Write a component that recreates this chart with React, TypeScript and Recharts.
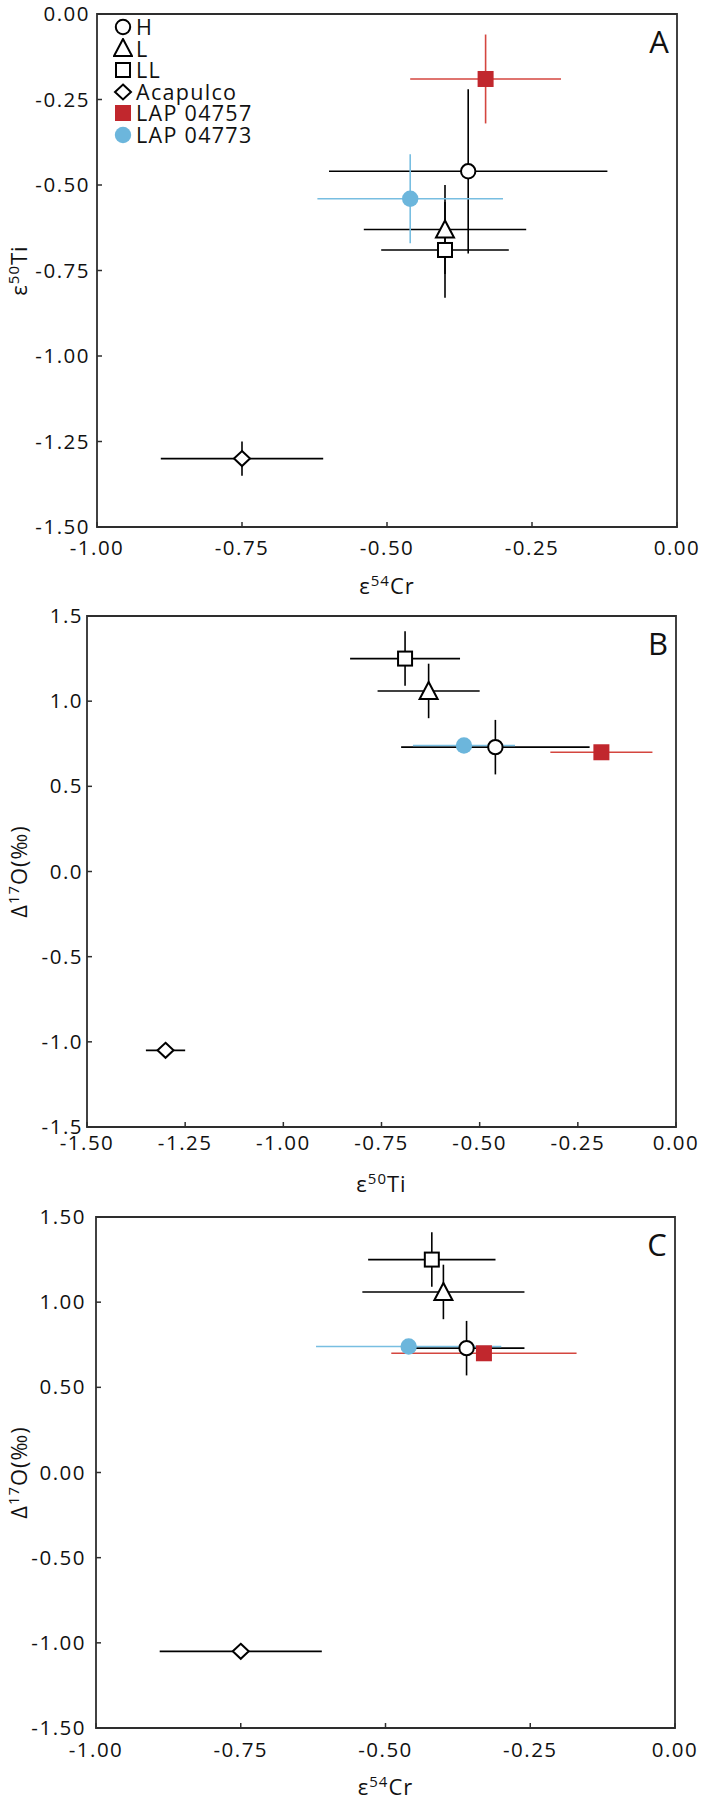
import React from "react";
import {
  ScatterChart,
  Scatter,
  XAxis,
  YAxis,
  ErrorBar,
  ReferenceArea,
  Legend,
} from "recharts";

const FONT = "'Open Sans', sans-serif";
const INK = "#111111";
const FRAME = "#2e2e2e";
const RED = "#c1272d";
const RED_LINE = "#d4463f";
const BLUE = "#6cb6dc";
const BLUE_LINE = "#78bee1";

const groups = ["H", "L", "LL", "Acapulco", "LAP 04757", "LAP 04773"];

// panel A: e54Cr vs e50Ti
const cr54 = [-0.36, -0.4, -0.4, -0.75, -0.33, -0.46];
const cr54Err = [0.24, 0.14, 0.11, 0.14, 0.13, 0.16];
const ti50 = [-0.46, -0.63, -0.69, -1.3, -0.19, -0.54];
const ti50Err = [0.24, 0.13, 0.14, 0.05, 0.13, 0.13];

// oxygen, used in B and C
const o17 = [0.73, 1.06, 1.25, -1.05, 0.7, 0.74];
const o17Err = [0.16, 0.16, 0.16, 0, 0, 0];

// panel C plots a slightly different Cr set
const cr54C = [-0.36, -0.4, -0.42, -0.75, -0.33, -0.46];
const cr54ErrC = [0.1, 0.14, 0.11, 0.14, 0.16, 0.16];

const crTicks = [-1, -0.75, -0.5, -0.25, 0];
const tiTicks = [-1.5, -1.25, -1, -0.75, -0.5, -0.25, 0];
const oTicks = [-1.5, -1, -0.5, 0, 0.5, 1, 1.5];

const TICK_SIZE = 20.5;
const TICK_SPACING = 1.5;
const TITLE_SIZE = 22;

const lineColor = (i: number) => (i === 4 ? RED_LINE : i === 5 ? BLUE_LINE : "#000");

const marker = (i: number, cx: number, cy: number) => {
  switch (i) {
    case 0:
      return <circle cx={cx} cy={cy} r={7.2} fill="#fff" stroke="#000" strokeWidth={2} />;
    case 1:
      return (
        <polygon
          points={`${cx},${cy - 9} ${cx - 9},${cy + 8} ${cx + 9},${cy + 8}`}
          fill="#fff"
          stroke="#000"
          strokeWidth={2}
        />
      );
    case 2:
      return <rect x={cx - 7} y={cy - 7} width={14} height={14} fill="#fff" stroke="#000" strokeWidth={2} />;
    case 3:
      return (
        <polygon
          points={`${cx},${cy - 7.5} ${cx + 8},${cy} ${cx},${cy + 7.5} ${cx - 8},${cy}`}
          fill="#fff"
          stroke="#000"
          strokeWidth={2}
        />
      );
    case 4:
      return <rect x={cx - 8} y={cy - 8} width={16} height={16} fill={RED} />;
    default:
      return <circle cx={cx} cy={cy} r={8.2} fill={BLUE} />;
  }
};

const LegendBox = () => (
  <div style={{ fontFamily: FONT, fontSize: 21.5, color: INK }}>
    {groups.map((g, i) => (
      <div key={g} style={{ display: "flex", alignItems: "center", height: 21.6 }}>
        <svg width={20} height={20} style={{ display: "block" }}>
          {marker(i, 10, 10)}
        </svg>
        <span style={{ display: "block", marginLeft: 3, letterSpacing: 1.3, lineHeight: "21.6px" }}>{g}</span>
      </div>
    ))}
  </div>
);

type Title = [string, string, string];

const titleSpans = (t: Title, size: number) => [
  <tspan key="a">{t[0]}</tspan>,
  <tspan key="b" fontSize={size * 0.68} dy={-8}>
    {t[1]}
  </tspan>,
  <tspan key="c" fontSize={size} dy={8}>
    {t[2]}
  </tspan>,
];

type PanelProps = {
  top: number;
  margin: { top: number; right: number; bottom: number; left: number };
  yWidth: number;
  xs: number[];
  xErr: number[];
  ys: number[];
  yErr: number[];
  xDomain: [number, number];
  yDomain: [number, number];
  xTicks: number[];
  yTicks: number[];
  xDec: number;
  yDec: number;
  yGap: number;
  xTickDy: number;
  xTitle: Title;
  yTitle: Title;
  xTitleDy: number;
  letter: string;
  legend?: boolean;
};

const Panel = (p: PanelProps) => {
  const rows = groups.map((g, i) => ({
    name: g,
    x: p.xs[i],
    y: p.ys[i],
    ex: p.xErr[i],
    ey: p.yErr[i],
  }));

  const yTick = (props: any) => {
    const { x, y, payload } = props;
    return (
      <g>
        <line x1={x} x2={x + 5} y1={y} y2={y} stroke={FRAME} strokeWidth={1.5} />
        <text
          x={x - p.yGap}
          y={y + 7}
          textAnchor="end"
          fontFamily={FONT}
          fontSize={TICK_SIZE}
          letterSpacing={TICK_SPACING}
          fill={INK}
        >
          {payload.value.toFixed(p.yDec)}
        </text>
      </g>
    );
  };

  const xTick = (props: any) => {
    const { x, y, payload } = props;
    return (
      <g>
        <line x1={x} x2={x} y1={y} y2={y - 5} stroke={FRAME} strokeWidth={1.5} />
        <text
          x={x}
          y={y + p.xTickDy + 7}
          textAnchor="middle"
          fontFamily={FONT}
          fontSize={TICK_SIZE}
          letterSpacing={TICK_SPACING}
          fill={INK}
        >
          {payload.value.toFixed(p.xDec)}
        </text>
      </g>
    );
  };

  return (
    <div style={{ position: "absolute", left: 0, top: p.top }}>
      <ScatterChart width={705} height={600} margin={p.margin}>
        <XAxis
          type="number"
          dataKey="x"
          domain={p.xDomain}
          ticks={p.xTicks}
          allowDataOverflow
          interval={0}
          height={30}
          axisLine={false}
          tickLine={false}
          tickSize={0}
          tickMargin={0}
          tick={xTick}
          label={{
            content: (lp: any) => {
              const vb = lp.viewBox;
              return (
                <text
                  x={vb.x + vb.width / 2}
                  y={vb.y + p.xTitleDy}
                  textAnchor="middle"
                  fontFamily={FONT}
                  fontSize={TITLE_SIZE}
                  letterSpacing={1}
                  fill={INK}
                >
                  {titleSpans(p.xTitle, TITLE_SIZE)}
                </text>
              );
            },
          }}
        />
        <YAxis
          type="number"
          dataKey="y"
          domain={p.yDomain}
          ticks={p.yTicks}
          allowDataOverflow
          interval={0}
          width={p.yWidth}
          axisLine={false}
          tickLine={false}
          tickSize={0}
          tickMargin={0}
          tick={yTick}
          label={{
            content: (lp: any) => {
              const vb = lp.viewBox;
              const cy = vb.y + vb.height / 2;
              return (
                <text
                  x={27}
                  y={cy}
                  transform={`rotate(-90 27 ${cy})`}
                  textAnchor="middle"
                  fontFamily={FONT}
                  fontSize={TITLE_SIZE}
                  letterSpacing={1}
                  fill={INK}
                >
                  {titleSpans(p.yTitle, TITLE_SIZE)}
                </text>
              );
            },
          }}
        />
        <ReferenceArea
          x1={p.xDomain[0]}
          x2={p.xDomain[1]}
          y1={p.yDomain[0]}
          y2={p.yDomain[1]}
          fill="none"
          stroke={FRAME}
          strokeWidth={1.8}
          ifOverflow="visible"
          label={{
            content: (lp: any) => {
              const vb = lp.viewBox;
              return (
                <text
                  x={vb.x + vb.width - 18}
                  y={vb.y + 39}
                  textAnchor="middle"
                  fontFamily={FONT}
                  fontSize={31}
                  fill={INK}
                >
                  {p.letter}
                </text>
              );
            },
          }}
        />
        {rows.map((r, i) => (
          <Scatter
            key={`err-${r.name}`}
            data={[r]}
            isAnimationActive={false}
            shape={() => <g />}
            legendType="none"
          >
            <ErrorBar dataKey="ex" direction="x" width={0} stroke={lineColor(i)} strokeWidth={1.6} />
            <ErrorBar dataKey="ey" direction="y" width={0} stroke={lineColor(i)} strokeWidth={1.6} />
          </Scatter>
        ))}
        {rows.map((r, i) => (
          <Scatter
            key={`pt-${r.name}`}
            name={r.name}
            data={[r]}
            isAnimationActive={false}
            shape={(sp: any) => marker(i, sp.cx, sp.cy)}
          />
        ))}
        {p.legend && (
          <Legend
            layout="vertical"
            align="center"
            verticalAlign="middle"
            wrapperStyle={{ top: 16, left: 113, width: "auto", height: "auto" }}
            content={() => <LegendBox />}
          />
        )}
      </ScatterChart>
    </div>
  );
};

export default function App() {
  return (
    <div style={{ position: "absolute", left: 0, top: 0, width: 705, height: 1800, background: "#fff" }}>
      <Panel
        top={0}
        margin={{ top: 14, right: 28, bottom: 43, left: 0 }}
        yWidth={97}
        xs={cr54}
        xErr={cr54Err}
        ys={ti50}
        yErr={ti50Err}
        xDomain={[-1, 0]}
        yDomain={[-1.5, 0]}
        xTicks={crTicks}
        yTicks={tiTicks}
        xDec={2}
        yDec={2}
        yGap={7}
        xTickDy={21}
        xTitle={["ε", "54", "Cr"]}
        yTitle={["ε", "50", "Ti"]}
        xTitleDy={67}
        letter="A"
        legend
      />
      <Panel
        top={600}
        margin={{ top: 16, right: 29, bottom: 43, left: 0 }}
        yWidth={87}
        xs={ti50}
        xErr={ti50Err}
        ys={o17}
        yErr={o17Err}
        xDomain={[-1.5, 0]}
        yDomain={[-1.5, 1.5]}
        xTicks={tiTicks}
        yTicks={oTicks}
        xDec={2}
        yDec={1}
        yGap={4}
        xTickDy={16}
        xTitle={["ε", "50", "Ti"]}
        yTitle={["Δ", "17", "O(‰)"]}
        xTitleDy={65}
        letter="B"
      />
      <Panel
        top={1200}
        margin={{ top: 17, right: 30, bottom: 42, left: 0 }}
        yWidth={96}
        xs={cr54C}
        xErr={cr54ErrC}
        ys={o17}
        yErr={o17Err}
        xDomain={[-1, 0]}
        yDomain={[-1.5, 1.5]}
        xTicks={crTicks}
        yTicks={oTicks}
        xDec={2}
        yDec={2}
        yGap={10}
        xTickDy={22}
        xTitle={["ε", "54", "Cr"]}
        yTitle={["Δ", "17", "O(‰)"]}
        xTitleDy={67}
        letter="C"
      />
    </div>
  );
}
